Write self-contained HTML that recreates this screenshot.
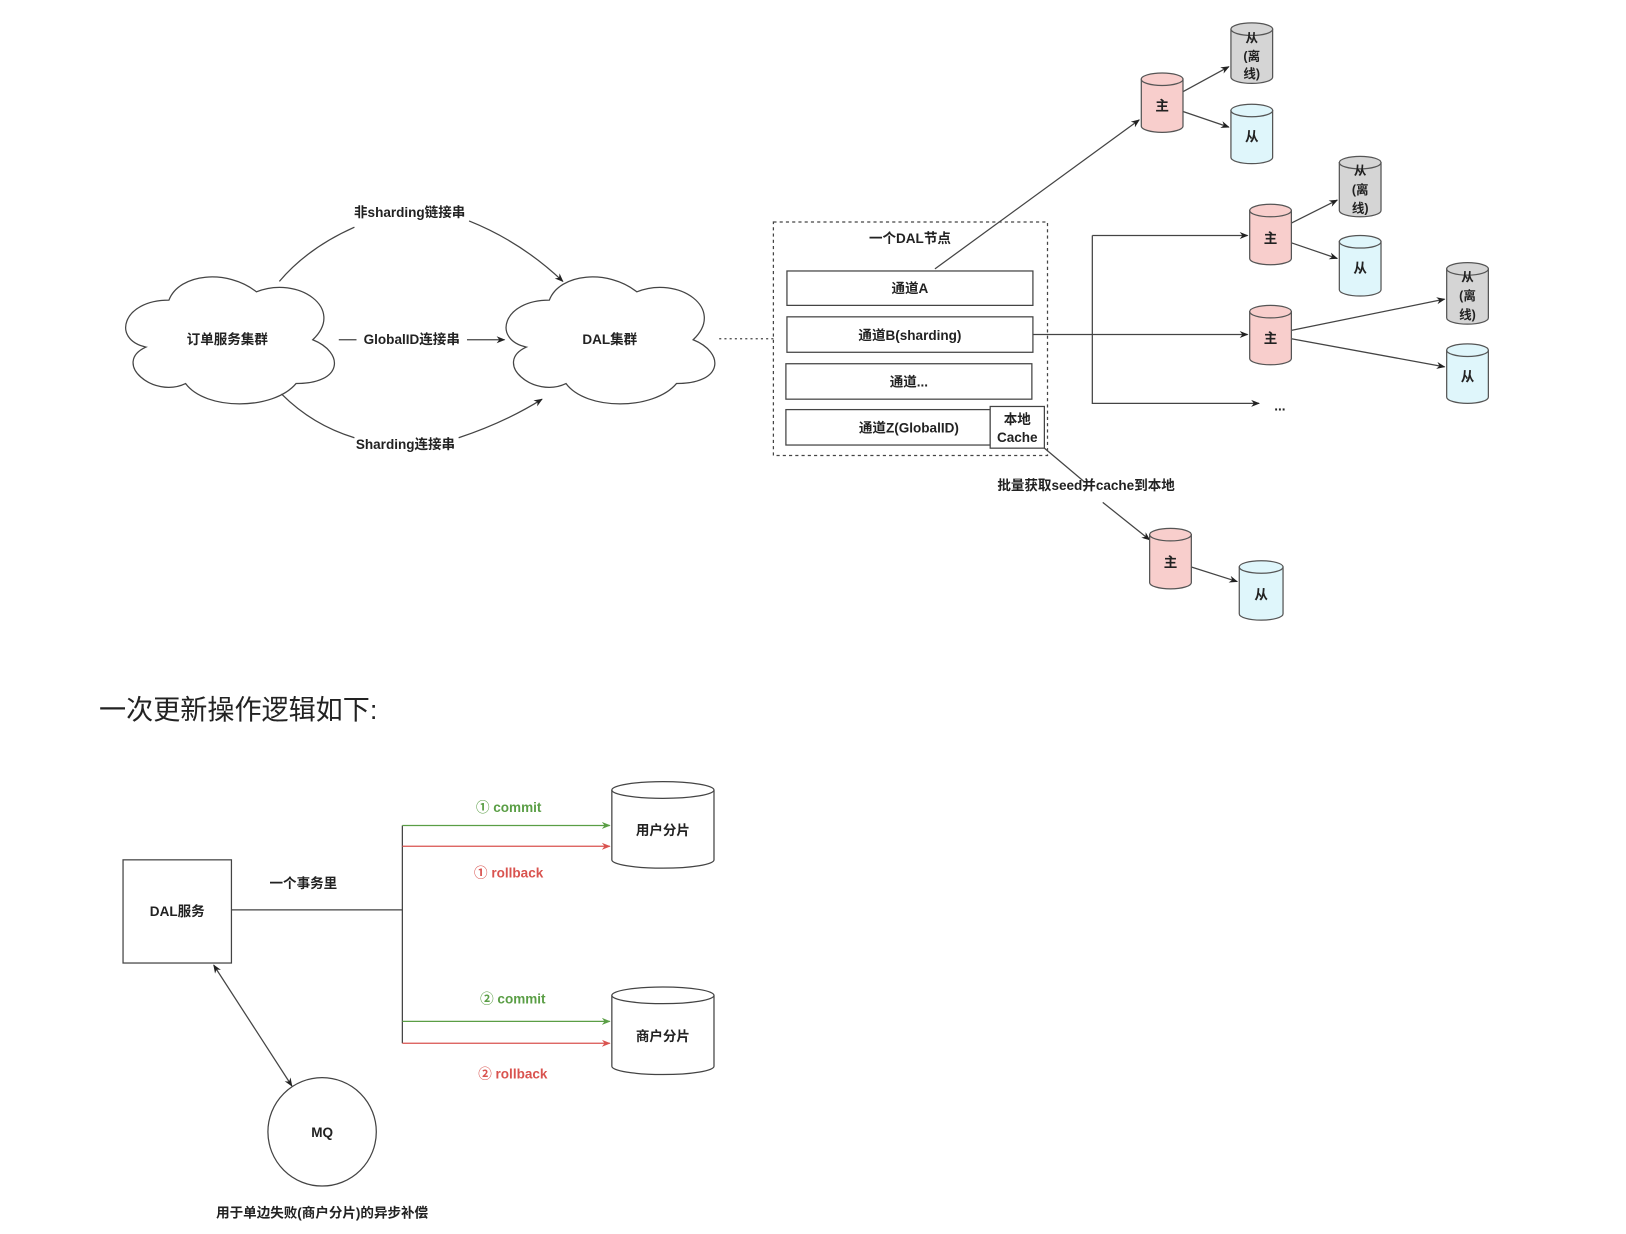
<!DOCTYPE html>
<html><head><meta charset="utf-8"><style>
html,body{margin:0;padding:0;background:#fff;}
svg{display:block;}
text{font-family:"Liberation Sans","Noto Sans CJK SC",sans-serif;}
</style></head><body>
<svg width="1626" height="1234" viewBox="0 0 1560 1184" xmlns="http://www.w3.org/2000/svg">
<defs>
<marker id="a" viewBox="0 0 10 10" refX="9" refY="5" markerWidth="7" markerHeight="7" orient="auto-start-reverse"><path d="M0,1 L10,5 L0,9 L3,5 Z" fill="#222"/></marker>
<marker id="g" viewBox="0 0 10 10" refX="9" refY="5" markerWidth="7" markerHeight="7" orient="auto"><path d="M0,1 L10,5 L0,9 L3,5 Z" fill="#5a9e45"/></marker>
<marker id="r" viewBox="0 0 10 10" refX="9" refY="5" markerWidth="7" markerHeight="7" orient="auto"><path d="M0,1 L10,5 L0,9 L3,5 Z" fill="#d9534f"/></marker>
</defs>
<g fill="none" stroke="#444" stroke-width="1.2">
<path transform="translate(112,258)" d="M50,30 C5,30 -5,68 28,75 C-5,90 35,125 66,110 C85,136 150,136 172,110 C218,110 218,80 188,68 C220,38 174,6 134,22 C106,0 60,4 50,30 Z" fill="#fff"/>
<path transform="translate(477,258)" d="M50,30 C5,30 -5,68 28,75 C-5,90 35,125 66,110 C85,136 150,136 172,110 C218,110 218,80 188,68 C220,38 174,6 134,22 C106,0 60,4 50,30 Z" fill="#fff"/>
<path d="M268,270 Q295,238 340,218" />
<path d="M450,212 Q500,232 540,270" marker-end="url(#a)"/>
<path d="M325,326 L342,326"/><path d="M448,326 L484,326" marker-end="url(#a)"/>
<path d="M270,378 Q300,408 340,420"/><path d="M440,420 Q485,405 520,383" marker-end="url(#a)"/>
<path d="M690,325 L742,325" stroke-dasharray="2,3"/>
<rect x="742" y="213" width="263" height="224" stroke-dasharray="3,3"/>
<rect x="755" y="260" width="236" height="33" fill="#fff"/>
<rect x="755" y="304" width="236" height="34" fill="#fff"/>
<rect x="754" y="349" width="236" height="34" fill="#fff"/>
<rect x="754" y="393" width="196" height="34" fill="#fff"/>
<rect x="950" y="390" width="52" height="40" fill="#fff"/>
<path d="M897,258 L1093,115" marker-end="url(#a)"/>
<path d="M991,321 L1197,321" marker-end="url(#a)"/>
<path d="M1048,226 L1048,387 L1208,387" marker-end="url(#a)"/>
<path d="M1048,226 L1197,226" marker-end="url(#a)"/>
<path d="M1002,430 L1040,462"/>
<path d="M1058,482 L1103,518" marker-end="url(#a)"/>
<path d="M1135,88 L1179,64" marker-end="url(#a)"/>
<path d="M1135,107 L1179,122" marker-end="url(#a)"/>
<path d="M1239,214 L1283,192" marker-end="url(#a)"/>
<path d="M1239,233 L1283,248" marker-end="url(#a)"/>
<path d="M1239,317 L1386,287" marker-end="url(#a)"/>
<path d="M1239,325 L1386,352" marker-end="url(#a)"/>
<path d="M1143,544 L1187,558" marker-end="url(#a)"/>
<rect x="118" y="825" width="104" height="99" fill="#fff"/>
<path d="M222,873 L386,873 M386,792 L386,1001"/>
<path d="M386,792 L585,792" stroke="#5a9e45" marker-end="url(#g)"/>
<path d="M386,812 L585,812" stroke="#d9534f" marker-end="url(#r)"/>
<path d="M386,980 L585,980" stroke="#5a9e45" marker-end="url(#g)"/>
<path d="M386,1001 L585,1001" stroke="#d9534f" marker-end="url(#r)"/>
<path d="M205,926 L280,1042" marker-start="url(#a)" marker-end="url(#a)"/>
<circle cx="309" cy="1086" r="52" fill="#fff"/>
<path d="M587,758 L587,825 A49,8 0 0 0 685,825 L685,758" fill="#fff"/>
<ellipse cx="636" cy="758" rx="49" ry="8" fill="#fff"/>
<path d="M587,955 L587,1023 A49,8 0 0 0 685,1023 L685,955" fill="#fff"/>
<ellipse cx="636" cy="955" rx="49" ry="8" fill="#fff"/>
</g>
<g stroke="#555" stroke-width="1.2">
<path d="M1095,76 L1095,121 A20,6 0 0 0 1135,121 L1135,76 Z" fill="#f8cecc"/><ellipse cx="1115" cy="76" rx="20" ry="6" fill="#f8cecc"/>
<path d="M1181,28 L1181,74 A20,6 0 0 0 1221,74 L1221,28 Z" fill="#d5d5d5"/><ellipse cx="1201" cy="28" rx="20" ry="6" fill="#d5d5d5"/>
<path d="M1181,106 L1181,151 A20,6 0 0 0 1221,151 L1221,106 Z" fill="#dff6fb"/><ellipse cx="1201" cy="106" rx="20" ry="6" fill="#dff6fb"/>
<path d="M1199,202 L1199,248 A20,6 0 0 0 1239,248 L1239,202 Z" fill="#f8cecc"/><ellipse cx="1219" cy="202" rx="20" ry="6" fill="#f8cecc"/>
<path d="M1285,156 L1285,202 A20,6 0 0 0 1325,202 L1325,156 Z" fill="#d5d5d5"/><ellipse cx="1305" cy="156" rx="20" ry="6" fill="#d5d5d5"/>
<path d="M1285,232 L1285,278 A20,6 0 0 0 1325,278 L1325,232 Z" fill="#dff6fb"/><ellipse cx="1305" cy="232" rx="20" ry="6" fill="#dff6fb"/>
<path d="M1199,299 L1199,344 A20,6 0 0 0 1239,344 L1239,299 Z" fill="#f8cecc"/><ellipse cx="1219" cy="299" rx="20" ry="6" fill="#f8cecc"/>
<path d="M1388,258 L1388,305 A20,6 0 0 0 1428,305 L1428,258 Z" fill="#d5d5d5"/><ellipse cx="1408" cy="258" rx="20" ry="6" fill="#d5d5d5"/>
<path d="M1388,336 L1388,381 A20,6 0 0 0 1428,381 L1428,336 Z" fill="#dff6fb"/><ellipse cx="1408" cy="336" rx="20" ry="6" fill="#dff6fb"/>
<path d="M1103,513 L1103,559 A20,6 0 0 0 1143,559 L1143,513 Z" fill="#f8cecc"/><ellipse cx="1123" cy="513" rx="20" ry="6" fill="#f8cecc"/>
<path d="M1189,544 L1189,589 A21,6 0 0 0 1231,589 L1231,544 Z" fill="#dff6fb"/><ellipse cx="1210" cy="544" rx="21" ry="6" fill="#dff6fb"/>
</g>
<g font-size="13" fill="#222" text-anchor="middle" font-weight="600">
<text x="218" y="330">订单服务集群</text>
<text x="585" y="330">DAL集群</text>
<text x="393" y="208">非sharding链接串</text>
<text x="395" y="330">GlobalID连接串</text>
<text x="389" y="431">Sharding连接串</text>
<text x="873" y="233">一个DAL节点</text>
<text x="873" y="281">通道A</text>
<text x="873" y="326">通道B(sharding)</text>
<text x="872" y="371">通道...</text>
<text x="872" y="415">通道Z(GlobalID)</text>
<text x="976" y="407">本地</text>
<text x="976" y="424">Cache</text>
<text x="1042" y="470">批量获取seed并cache到本地</text>
<text x="1228" y="394">...</text>
<text x="1115" y="106">主</text><text x="1219" y="233">主</text><text x="1219" y="329">主</text><text x="1123" y="544">主</text>
<text x="1201" y="136">从</text><text x="1305" y="262">从</text><text x="1408" y="366">从</text><text x="1210" y="575">从</text>
<g font-size="12"><text x="1201" y="41">从</text><text x="1201" y="58">(离</text><text x="1201" y="75">线)</text>
<text x="1305" y="168">从</text><text x="1305" y="186">(离</text><text x="1305" y="204">线)</text>
<text x="1408" y="270">从</text><text x="1408" y="288">(离</text><text x="1408" y="306">线)</text></g>
<text x="170" y="879">DAL服务</text>
<text x="291" y="852">一个事务里</text>
<text x="636" y="801">用户分片</text>
<text x="636" y="999">商户分片</text>
<text x="309" y="1091">MQ</text>
<text x="309" y="1168">用于单边失败(商户分片)的异步补偿</text>
<text x="488" y="779" fill="#5a9e45">① commit</text>
<text x="488" y="842" fill="#d9534f">① rollback</text>
<text x="492" y="963" fill="#5a9e45">② commit</text>
<text x="492" y="1035" fill="#d9534f">② rollback</text>
</g>
<text x="95" y="690" font-size="26" fill="#222">一次更新操作逻辑如下:</text>
</svg>
</body></html>
